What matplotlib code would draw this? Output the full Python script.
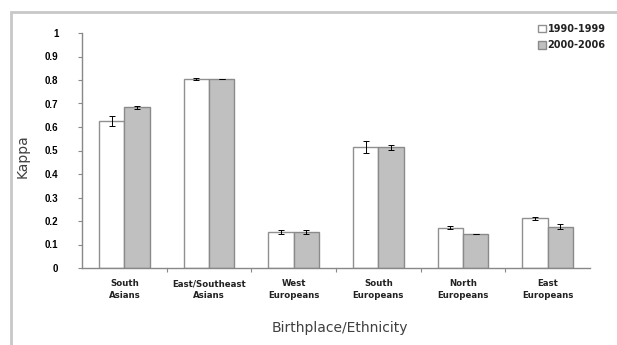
from matplotlib import pyplot as plt
from matplotlib.patches import Rectangle
import numpy as np

plt.rcParams['font.family'] = ['DejaVu Sans']

# Data
groups = ['South\nAsians', 'East/Southeast\nAsians', 'West\nEuropeans',
          'South\nEuropeans', 'North\nEuropeans', 'East\nEuropeans']
kappa_90s = [0.625, 0.805, 0.152, 0.515, 0.172, 0.211]
err_90s = [0.020, 0.005, 0.008, 0.025, 0.005, 0.008]
kappa_00s = [0.683, 0.805, 0.152, 0.513, 0.143, 0.176]
err_00s = [0.008, 0.000, 0.008, 0.010, 0.000, 0.010]
series_names = ['1990-1999', '2000-2006']

fig = plt.figure(figsize=(6.17, 3.45), dpi=100)
ax = fig.add_axes([82/617, 1-268/345, 508/617, 235/345])

# outer frame (image is cropped at right/bottom)
fig.patches.append(Rectangle((11/617, -0.1), 1.2, (334+34)/345, transform=fig.transFigure,
                             fill=False, edgecolor='#c8c8c8', lw=2.0))

x = np.arange(len(groups))
w = 0.3
ekw = dict(ecolor='black', elinewidth=0.7, capsize=2, capthick=0.7)
ax.bar(x - w/2, kappa_90s, w, yerr=err_90s, color='white', edgecolor='#909090',
       lw=1.0, error_kw=ekw, label=series_names[0])
ax.bar(x + w/2, kappa_00s, w, yerr=err_00s, color='#c0c0c0', edgecolor='#8a8a8a',
       lw=1.0, error_kw=ekw, label=series_names[1])

ax.set_xlim(-0.5, len(groups) - 0.5)
ax.set_ylim(0, 1)
ax.set_yticks(np.arange(0, 1.01, 0.1))
ax.set_yticklabels(['0'] + ['%.1f' % v for v in np.arange(0.1, 0.95, 0.1)] + ['1'],
                   family='Liberation Sans', fontweight='bold', fontsize=7)
ax.set_xticks(x)
ax.set_xticklabels(groups, fontsize=6.2, fontweight='bold', linespacing=1.4, color='#222222')
ax.set_xticks(np.arange(0.5, len(groups) - 0.5, 1), minor=True)
ax.tick_params(axis='x', which='major', length=0, pad=8)
ax.tick_params(axis='x', which='minor', length=3, color='#888888', width=0.8)
ax.tick_params(axis='y', length=3, color='#888888', width=0.8, pad=14)

for s in ['top', 'right']:
    ax.spines[s].set_visible(False)
for s in ['left', 'bottom']:
    ax.spines[s].set_color('#888888')
    ax.spines[s].set_linewidth(1.0)

ax.set_ylabel('Kappa', fontsize=10, color='#404040')
ax.yaxis.set_label_coords(-0.104, 0.477)
ax.set_xlabel('Birthplace/Ethnicity', fontsize=10, color='#404040')
ax.xaxis.set_label_coords(0.508, -0.226)

leg = fig.legend(loc='upper left', bbox_to_anchor=(534/617, 1-20/345), frameon=False,
                 fontsize=7, handlelength=0.8, handleheight=0.8, handletextpad=0.2,
                 labelspacing=0.65, borderaxespad=0)
for t in leg.get_texts():
    t.set_fontweight('bold')
    t.set_color('#222222')

plt.savefig('out.png', dpi=100)
